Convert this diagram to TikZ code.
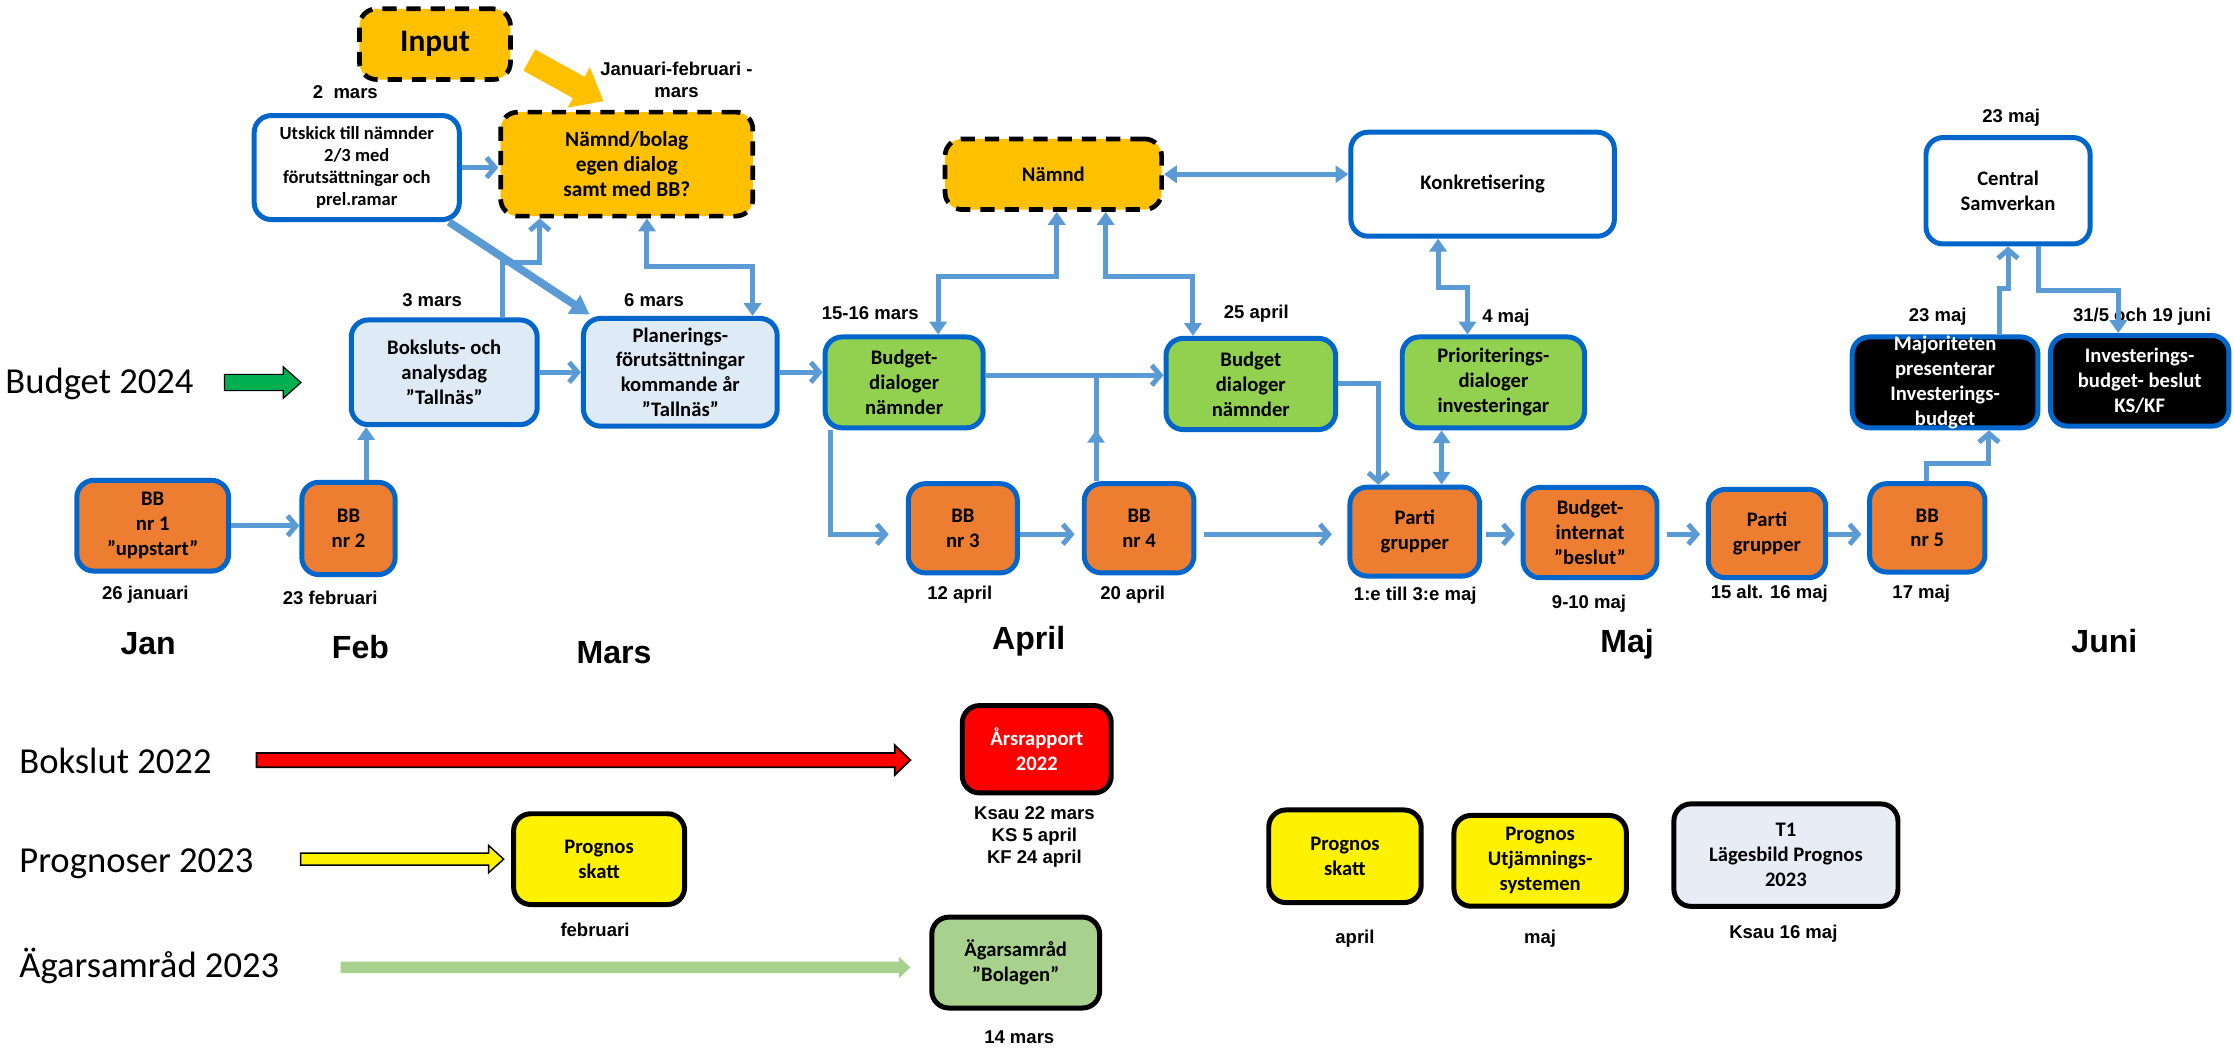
\documentclass[tikz,border=0pt]{standalone}
\usepackage{fontspec}
\setmainfont{Carlito}
\newfontfamily\myarial{Liberation Sans}
\usetikzlibrary{arrows.meta,calc}
\definecolor{bblue}{HTML}{0066CC}
\definecolor{lblue}{HTML}{5B9BD5}
\definecolor{amber}{HTML}{FFC000}
\definecolor{bborange}{HTML}{ED7D31}
\definecolor{dgreen}{HTML}{92D050}
\definecolor{palefill}{HTML}{DEEBF7}
\definecolor{agreen}{HTML}{A9D18E}
\definecolor{pgreen}{HTML}{00B050}
\definecolor{tone}{HTML}{E8ECF5}
\newcommand\myboxfont{\fontsize{14.5}{17.5}\selectfont\bfseries}
\newcommand\mydatefont{\myarial\fontsize{13}{15.6}\selectfont\bfseries}
\newcommand\mymonthfont{\myarial\fontsize{22.5}{27}\selectfont\bfseries}
\newcommand\mylabelfont{\fontsize{25.7}{30}\selectfont}
\begin{document}
\begin{tikzpicture}[x=1pt,y=-1pt,
  box/.style={rounded corners=12pt, line width=3.5pt, align=center, inner sep=1pt, font=\myboxfont},
  bluebox/.style={box, draw=bblue},
  blackbox/.style={box, draw=black},
  dashbox/.style={box, draw=black, line width=3.3pt, dash pattern=on 10pt off 7pt, fill=amber},
  datelbl/.style={font=\mydatefont, align=center, inner sep=0pt},
  monthlbl/.style={font=\mymonthfont, inner sep=0pt},
  rowlbl/.style={font=\mylabelfont, anchor=base west, inner sep=0pt},
  conn/.style={draw=lblue, line width=3.5pt, -{Straight Barb[length=6pt,width=14pt]}},
  conntri/.style={draw=lblue, line width=3.5pt, -{Triangle[length=9pt,width=12pt]}},
  dconn/.style={draw=lblue, line width=3.5pt, {Triangle[length=9pt,width=12pt]}-{Triangle[length=9pt,width=12pt]}},
  plainconn/.style={draw=lblue, line width=3.5pt},
]
\fill[white] (0,0) rectangle (1568,736);
\useasboundingbox (0,0) rectangle (1568,736);

% ---------- labels ----------
\node[rowlbl] (lbudget) at (3.6,276) {Budget 2024};
\node[rowlbl] (lbokslut) at (13.4,542.8) {Bokslut 2022};
\node[rowlbl] (lprognos) at (13.4,612.5) {Prognoser 2023};
\node[rowlbl] (lagar) at (13.4,686.2) {Ägarsamråd 2023};

\node[monthlbl] (mjan) at (104,451.6) {Jan};
\node[monthlbl] (mfeb) at (253,453.9) {Feb};
\node[monthlbl] (mmar) at (431,457.9) {Mars};
\node[monthlbl] (mapr) at (722,450) {April};
\node[monthlbl] (mmaj) at (1142,452) {Maj};
\node[monthlbl] (mjun) at (1477,450) {Juni};

\node[datelbl] (d1) at (242.4,64.4) {2 \ mars};
\node[datelbl] (d2) at (474.8,56) {Januari-februari -\\mars};
\node[datelbl] (d3) at (303.3,211) {3 mars};
\node[datelbl] (d4) at (459,210.6) {6 mars};
\node[datelbl] (d5) at (610.8,220) {15-16 mars};
\node[datelbl] (d6) at (881.8,220) {25 april};
\node[datelbl] (d7) at (1057,223) {4 maj};
\node[datelbl] (d8) at (1360,222) {23 maj};
\node[datelbl] (d9) at (1503.4,222) {31/5 och 19 juni};
\node[datelbl] (d10) at (1411.6,82.5) {23 maj};
\node[datelbl] (d11) at (102,417.6) {26 januari};
\node[datelbl] (d12) at (231.8,419.3) {23 februari};
\node[datelbl] (d13) at (673.7,417.6) {12 april};
\node[datelbl] (d14) at (795,417.6) {20 april};
\node[datelbl] (d15) at (993.3,417.8) {1:e till 3:e maj};
\node[datelbl] (d16) at (1115.3,423.4) {9-10 maj};
\node[datelbl] (d17) at (1241.8,417) {15 alt. 16 maj};
\node[datelbl] (d18) at (1348.5,417) {17 maj};
\node[datelbl] (d19) at (726,587.5) {Ksau 22 mars\\KS 5 april\\KF 24 april};
\node[datelbl] (d20) at (417.6,652.8) {februari};
\node[datelbl] (d21) at (715.4,727.7) {14 mars};
\node[datelbl] (d22) at (951,658.6) {april};
\node[datelbl] (d23) at (1081,658.6) {maj};
\node[datelbl] (d24) at (1251.7,655) {Ksau 16 maj};

% ---------- top boxes ----------
\node[dashbox, minimum width=106pt, minimum height=49.6pt, font=\fontsize{22}{26}\selectfont\bfseries] (input) at (305.3,31) {Input};
\node[bluebox, fill=white, minimum width=144pt, minimum height=73pt, font=\fontsize{13}{15.6}\selectfont\bfseries] (utskick) at (250.4,117.6) {Utskick till nämnder\\2/3 med\\förutsättningar och\\prel.ramar};
\node[dashbox, minimum width=177pt, minimum height=73pt, font=\fontsize{15}{17.5}\selectfont\bfseries] (nb) at (439.9,115.2) {Nämnd/bolag\\egen dialog\\samt med BB?};
\node[bluebox, fill=palefill, minimum width=130.5pt, minimum height=73.5pt] (bokslut) at (311.8,261.3) {Boksluts- och\\analysdag\\”Tallnäs”};
\node[bluebox, fill=palefill, minimum width=136pt, minimum height=75.6pt] (plan) at (477.5,261.3) {Planerings-\\förutsättningar\\kommande år\\”Tallnäs”};
\node[bluebox, fill=dgreen, minimum width=111pt, minimum height=63.8pt] (bd1) at (634.6,268.4) {Budget-\\dialoger\\nämnder};
\node[dashbox, minimum width=152pt, minimum height=49.6pt] (namnd) at (739.3,122.3) {Nämnd};
\node[bluebox, fill=white, minimum width=185pt, minimum height=73pt] (konk) at (1040.6,129.3) {Konkretisering};
\node[bluebox, fill=dgreen, minimum width=119pt, minimum height=64pt] (bd2) at (877.9,269.5) {Budget\\dialoger\\nämnder};
\node[bluebox, fill=dgreen, minimum width=128pt, minimum height=63.8pt] (prio) at (1048.2,268.4) {Prioriterings-\\dialoger\\investeringar};
\node[bluebox, fill=black, minimum width=130.4pt, minimum height=63.8pt] (maj) at (1365.2,268.4) {};
\node[font=\myboxfont, text=white, align=center, inner sep=0pt] (majtxt) at (maj.center) {Majoriteten\\presenterar\\Investerings-\\budget};
\node[bluebox, fill=black, text=white, minimum width=125.3pt, minimum height=63.6pt] (inv) at (1501.8,267.3) {Investerings-\\budget- beslut\\KS/KF};
\node[bluebox, fill=white, minimum width=115.2pt, minimum height=74.7pt] (cs) at (1409.4,133.9) {Central\\Samverkan};

% ---------- BB row ----------
\node[bluebox, fill=bborange, minimum width=106.6pt, minimum height=63.7pt] (bb1) at (107.2,369) {BB\\nr 1\\”uppstart”};
\node[bluebox, fill=bborange, minimum width=65.5pt, minimum height=64.8pt] (bb2) at (244.6,370.9) {BB\\nr 2};
\node[bluebox, fill=bborange, minimum width=76.6pt, minimum height=62.6pt] (bb3) at (675.8,370.8) {BB\\nr 3};
\node[bluebox, fill=bborange, minimum width=77pt, minimum height=62.6pt] (bb4) at (799.5,370.8) {BB\\nr 4};
\node[bluebox, fill=bborange, minimum width=91pt, minimum height=62.4pt] (pg1) at (993,373.1) {Parti\\grupper};
\node[bluebox, fill=bborange, minimum width=94pt, minimum height=63.4pt] (bi) at (1116,373.8) {Budget-\\internat\\”beslut”};
\node[bluebox, fill=bborange, minimum width=82.4pt, minimum height=62pt] (pg2) at (1240.2,374.5) {Parti\\grupper};
\node[bluebox, fill=bborange, minimum width=81pt, minimum height=62pt] (bb5) at (1352.7,370.5) {BB\\nr 5};

% ---------- bottom boxes ----------
\node[blackbox, fill=red, text=white, minimum width=104.5pt, minimum height=61.3pt] (ars) at (727.7,525.9) {Årsrapport\\2022};
\node[blackbox, fill=yellow, minimum width=120pt, minimum height=63.7pt] (ps1) at (420.5,603) {Prognos\\skatt};
\node[blackbox, fill=agreen, minimum width=117.8pt, minimum height=63.8pt] (ag) at (712.9,675.6) {Ägarsamråd\\”Bolagen”};
\node[blackbox, fill=yellow, minimum width=107pt, minimum height=65pt] (ps2) at (944,601) {Prognos\\skatt};
\node[blackbox, fill=yellow, minimum width=121pt, minimum height=63.7pt] (pu) at (1081,604.2) {Prognos\\Utjämnings-\\systemen};
\node[blackbox, fill=tone, minimum width=157.3pt, minimum height=71.9pt] (t1) at (1253.5,600.2) {T1\\Lägesbild Prognos\\2023};

% ---------- block arrows ----------
\filldraw[fill=pgreen, draw=black, line width=0.8pt] (157.6,262.8) -- (198.8,262.8) -- (198.8,257.4) -- (211.3,268.5) -- (198.8,279.6) -- (198.8,274.2) -- (157.6,274.2) -- cycle;
\filldraw[fill=red, draw=black, line width=1.2pt] (180,528.5) -- (628,528.5) -- (628,523) -- (639,533.5) -- (628,544) -- (628,538.5) -- (180,538.5) -- cycle;
\filldraw[fill=yellow, draw=black, line width=1pt] (211,598.8) -- (343,598.8) -- (343,593.5) -- (353.5,603) -- (343,612.5) -- (343,607.2) -- (211,607.2) -- cycle;
\fill[agreen] (239,675) -- (631,675) -- (631,671.5) -- (639,679) -- (631,686.5) -- (631,683) -- (239,683) -- cycle;

\coordinate (inA) at (371.5,42.2);
\draw[amber, line width=17pt, -{Triangle[length=20pt,width=31pt]}] (inA) -- ([xshift=-16.2pt,yshift=6pt]nb.north);

% ---------- connectors ----------
\coordinate (rowY) at (0,375);
\coordinate (j1) at ($(bd1.east)+(0,-5)$);

\draw[conn] (utskick.east) -- (utskick.east -| nb.west);
\draw[draw=lblue, line width=5.5pt, -{Triangle[length=13pt,width=15pt]}] ([xshift=-9pt]utskick.south east) -- ([xshift=6pt,yshift=1pt]plan.north west);
\draw[conn] ([xshift=41pt]bokslut.north) -- ++(0,-38.5) -| ([xshift=-61pt]nb.south);
\draw[dconn] ([xshift=14.2pt]nb.south) -- ++(0,34) -| ([xshift=50.7pt]plan.north);
\draw[conn] (bokslut.east) -- (bokslut.east -| plan.west);
\draw[conn] (plan.east) -- (plan.east -| bd1.west);
\draw[conn] (bb1.east) -- (bb1.east -| bb2.west);
\draw[conntri] ([xshift=12.4pt]bb2.north) -- ([xshift=12.4pt]bb2.north |- bokslut.south);

\draw[dconn] (namnd.east) -- (namnd.east -| konk.west);
\draw[dconn] ([xshift=2.4pt]namnd.south) -- ++(0,45.4) -| ([xshift=23.9pt]bd1.north);
\draw[dconn] ([xshift=36.7pt]namnd.south) -- ++(0,45.4) -| ([xshift=-40.6pt]bd2.north);
\draw[conn] (j1) -- (j1 -| bd2.west);
\draw[plainconn] ([xshift=-30.2pt]bb4.north) -- ([xshift=-30.2pt]bb4.north |- j1);
\draw[conntri] ([xshift=-30.2pt]bb4.north) -- ++(0,-36);
\draw[conn] ([xshift=-51.6pt]bd1.south) |- ([xshift=-12pt]bb3.west |- rowY);
\draw[conn, shorten >=5pt] (bb3.east |- rowY) -- (bb4.west |- rowY);
\draw[conn, shorten <=5pt, shorten >=11pt] (bb4.east |- rowY) -- (pg1.west |- rowY);
\draw[conn, shorten <=3pt, shorten >=4pt] (pg1.east |- rowY) -- (bi.west |- rowY);
\draw[conn, shorten <=5pt, shorten >=4pt] (bi.east |- rowY) -- (pg2.west |- rowY);
\draw[conn, shorten >=4pt] (pg2.east |- rowY) -- (bb5.west |- rowY);
\draw[conn] (bd2.east) -| ([xshift=-25.6pt]pg1.north);
\draw[dconn] ([xshift=18.8pt]pg1.north) -- ([xshift=18.8pt]pg1.north |- prio.south);
\draw[dconn] ([xshift=-31.2pt]konk.south) -- ++(0,34) -| ([xshift=-18.2pt]prio.north);
\draw[conn] ([xshift=-0.7pt]bb5.north) -- ++(0,-12.5) -| ([xshift=30.8pt]maj.south);
\draw[conn] ([xshift=38.1pt]maj.north) -- ++(0,-32) -| (cs.south);
\draw[conntri] ([xshift=21.2pt]cs.south) -- ++(0,31) -| ([xshift=-15pt]inv.north);
\end{tikzpicture}
\end{document}
